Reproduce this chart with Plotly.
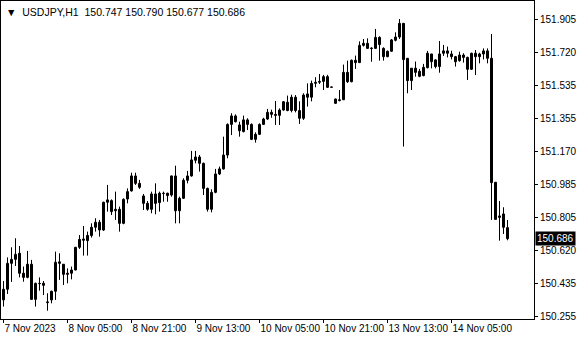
import plotly.graph_objects as go
from datetime import datetime, timedelta

symbol = "USDJPY,H1"

open_ = [150.346, 150.405, 150.549, 150.571, 150.605, 150.494, 150.471, 150.544, 150.349, 150.438,
         150.438, 150.335, 150.346, 150.394, 150.557, 150.544, 150.494, 150.494, 150.512, 150.638,
         150.677, 150.675, 150.703, 150.749, 150.777, 150.734, 150.888, 150.897, 150.841, 150.849,
         150.771, 150.906, 150.951, 151.034, 150.993, 150.923, 150.882, 150.849, 150.934, 150.886,
         150.938, 150.938, 150.928, 151.034, 150.841, 150.910, 151.010, 151.034, 151.121, 151.139,
         151.104, 150.965, 150.849, 150.943, 151.045, 151.073, 151.150, 151.320, 151.367, 151.317,
         151.280, 151.345, 151.320, 151.237, 151.265, 151.320, 151.350, 151.387, 151.376, 151.370,
         151.400, 151.443, 151.397, 151.471, 151.397, 151.354, 151.471, 151.471, 151.548, 151.554,
         151.559, 151.585, 151.528, 151.437, 151.452, 151.457, 151.609, 151.557, 151.676, 151.663,
         151.759, 151.770, 151.744, 151.742, 151.803, 151.742, 151.696, 151.726, 151.787, 151.805,
         151.881, 151.687, 151.563, 151.632, 151.615, 151.591, 151.635, 151.711, 151.678, 151.641,
         151.715, 151.728, 151.711, 151.696, 151.674, 151.705, 151.692, 151.626, 151.715, 151.696,
         151.711, 151.728, 151.687, 150.999, 150.812, 150.823, 150.747]
high = [150.451, 150.582, 150.638, 150.688, 150.645, 150.531, 150.618, 150.568, 150.442, 150.471,
        150.451, 150.383, 150.397, 150.614, 150.605, 150.545, 150.521, 150.531, 150.640, 150.706,
        150.756, 150.725, 150.771, 150.799, 150.790, 150.891, 150.984, 150.904, 150.947, 150.864,
        150.910, 150.965, 151.052, 151.052, 151.012, 150.934, 150.895, 150.947, 150.993, 150.947,
        150.947, 150.941, 151.036, 151.091, 150.919, 151.021, 151.062, 151.173, 151.173, 151.150,
        151.108, 150.969, 150.960, 151.073, 151.086, 151.252, 151.326, 151.382, 151.376, 151.335,
        151.369, 151.354, 151.326, 151.276, 151.326, 151.357, 151.406, 151.402, 151.450, 151.409,
        151.450, 151.480, 151.485, 151.483, 151.448, 151.493, 151.548, 151.563, 151.582, 151.600,
        151.595, 151.595, 151.530, 151.463, 151.511, 151.652, 151.674, 151.680, 151.702, 151.781,
        151.794, 151.798, 151.748, 151.850, 151.809, 151.748, 151.730, 151.794, 151.831, 151.905,
        151.883, 151.687, 151.632, 151.669, 151.628, 151.656, 151.728, 151.711, 151.681, 151.783,
        151.761, 151.752, 151.729, 151.700, 151.724, 151.715, 151.696, 151.718, 151.733, 151.718,
        151.742, 151.742, 151.822, 150.999, 150.895, 150.860, 150.790]
low = [150.309, 150.379, 150.446, 150.534, 150.471, 150.447, 150.466, 150.346, 150.309, 150.397,
       150.373, 150.286, 150.327, 150.346, 150.457, 150.429, 150.438, 150.460, 150.510, 150.629,
       150.592, 150.592, 150.692, 150.725, 150.697, 150.729, 150.836, 150.817, 150.790, 150.725,
       150.766, 150.882, 150.947, 150.984, 150.962, 150.845, 150.841, 150.827, 150.821, 150.836,
       150.891, 150.891, 150.919, 150.771, 150.771, 150.906, 150.993, 151.030, 151.104, 151.058,
       150.928, 150.836, 150.832, 150.938, 151.039, 151.069, 151.132, 151.261, 151.331, 151.252,
       151.276, 151.289, 151.233, 151.219, 151.261, 151.317, 151.345, 151.357, 151.317, 151.317,
       151.396, 151.393, 151.387, 151.387, 151.323, 151.345, 151.419, 151.448, 151.526, 151.544,
       151.511, 151.522, 151.524, 151.435, 151.448, 151.456, 151.550, 151.554, 151.628, 151.661,
       151.752, 151.739, 151.668, 151.739, 151.674, 151.674, 151.693, 151.724, 151.781, 151.794,
       151.197, 151.493, 151.511, 151.585, 151.582, 151.587, 151.631, 151.631, 151.631, 151.607,
       151.700, 151.692, 151.681, 151.641, 151.668, 151.663, 151.567, 151.622, 151.594, 151.659,
       151.681, 151.659, 150.790, 150.793, 150.675, 150.712, 150.677]
close = [150.405, 150.549, 150.571, 150.599, 150.494, 150.471, 150.544, 150.349, 150.438, 150.436,
         150.427, 150.331, 150.394, 150.555, 150.549, 150.488, 150.488, 150.512, 150.638, 150.682,
         150.684, 150.704, 150.749, 150.777, 150.734, 150.888, 150.901, 150.836, 150.849, 150.771,
         150.904, 150.947, 151.034, 150.993, 150.971, 150.882, 150.849, 150.934, 150.882, 150.938,
         150.936, 150.925, 151.034, 150.841, 150.910, 151.010, 151.034, 151.123, 151.139, 151.104,
         150.965, 150.849, 150.943, 151.045, 151.073, 151.150, 151.320, 151.367, 151.335, 151.285,
         151.345, 151.320, 151.237, 151.265, 151.320, 151.350, 151.387, 151.376, 151.370, 151.400,
         151.446, 151.397, 151.471, 151.397, 151.354, 151.483, 151.489, 151.548, 151.554, 151.559,
         151.585, 151.526, 151.526, 151.461, 151.457, 151.609, 151.557, 151.676, 151.663, 151.759,
         151.770, 151.742, 151.741, 151.803, 151.763, 151.696, 151.726, 151.789, 151.805, 151.881,
         151.680, 151.563, 151.632, 151.609, 151.587, 151.637, 151.715, 151.668, 151.641, 151.711,
         151.728, 151.715, 151.696, 151.668, 151.705, 151.692, 151.626, 151.715, 151.696, 151.711,
         151.728, 151.687, 150.997, 150.793, 150.804, 150.749, 150.686]

first_bar = "2023-11-07 13:00"
tick_times = ["2023-11-07 13:00", "2023-11-08 05:00", "2023-11-08 21:00", "2023-11-09 13:00",
              "2023-11-10 05:00", "2023-11-10 21:00", "2023-11-13 13:00", "2023-11-14 05:00"]
tick_text = ["7 Nov 2023", "8 Nov 05:00", "8 Nov 21:00", "9 Nov 13:00",
             "10 Nov 05:00", "10 Nov 21:00", "13 Nov 13:00", "14 Nov 05:00"]
price_ticks = [151.905, 151.720, 151.535, 151.355, 151.170, 150.985, 150.805, 150.620, 150.435, 150.255]

UP = "#3cb43c"
DOWN = "#e00000"
FONT = "Liberation Sans, Arial, sans-serif"

fmt = "%Y-%m-%d %H:%M"
times = []
t = datetime.strptime(first_bar, fmt)
while len(times) < len(open_):
    if t.weekday() < 5:
        times.append(t)
    t += timedelta(hours=1)
idx = list(range(len(times)))
tick_idx = [times.index(datetime.strptime(s, fmt)) for s in tick_times]

# wicks
wx, wy = [], []
for i, h, l in zip(idx, high, low):
    wx += [i, i, None]
    wy += [l, h, None]

# bodies
base = [min(o, c) for o, c in zip(open_, close)]
size = [max(abs(c - o), 0.0005) for o, c in zip(open_, close)]
colors = [UP if c >= o else DOWN for o, c in zip(open_, close)]

fig = go.Figure()
fig.add_trace(go.Scatter(x=wx, y=wy, mode="lines", line=dict(color="black", width=1),
                         hoverinfo="skip", showlegend=False))
fig.add_trace(go.Bar(x=idx, y=size, base=base, width=0.5,
                     marker=dict(color=colors, line=dict(color="black", width=1)),
                     hoverinfo="skip", showlegend=False))

last_o, last_h, last_l, last_c = open_[-1], high[-1], low[-1], close[-1]
title = "\u25BC\u00a0\u00a0" + symbol + "\u00a0\u00a0" + " ".join(f"{v:.3f}" for v in (last_o, last_h, last_l, last_c))

fig.update_layout(
    width=580, height=340,
    margin=dict(l=1, r=46, t=1, b=21),
    paper_bgcolor="white", plot_bgcolor="white",
    font=dict(family=FONT, size=10, color="black"),
    xaxis=dict(
        range=[-0.625, 132.625], showgrid=False, zeroline=False,
        showline=True, linecolor="black", linewidth=1, mirror=True,
        ticks="outside", ticklen=3, tickcolor="black", tickwidth=1,
        tickvals=tick_idx, ticktext=tick_text, ticklabelposition="outside right",
        tickangle=0, automargin=False,
        tickfont=dict(family=FONT, size=10, color="black"), fixedrange=True,
    ),
    yaxis=dict(
        range=[150.240, 152.005], side="right", showgrid=False, zeroline=False,
        showline=True, linecolor="black", linewidth=1, mirror=True,
        ticks="outside", ticklen=3, tickcolor="black", tickwidth=1,
        tickvals=price_ticks, ticktext=[f"{v:.3f}" for v in price_ticks],
        tickfont=dict(family=FONT, size=10, color="black"), fixedrange=True,
        automargin=False,
    ),
    annotations=[
        dict(text=title, x=0, xref="paper", xanchor="left", xshift=3,
             y=1, yref="paper", yanchor="top", yshift=-3, showarrow=False,
             font=dict(family=FONT, size=10.5, color="black")),
        dict(text=f"{last_c:.3f}", x=1, xref="paper", xanchor="left", xshift=1,
             y=last_c, yref="y", yanchor="middle", showarrow=False,
             bgcolor="black", borderpad=1,
             font=dict(family=FONT, size=10, color="white")),
    ],
)

fig.write_html("out.html")
